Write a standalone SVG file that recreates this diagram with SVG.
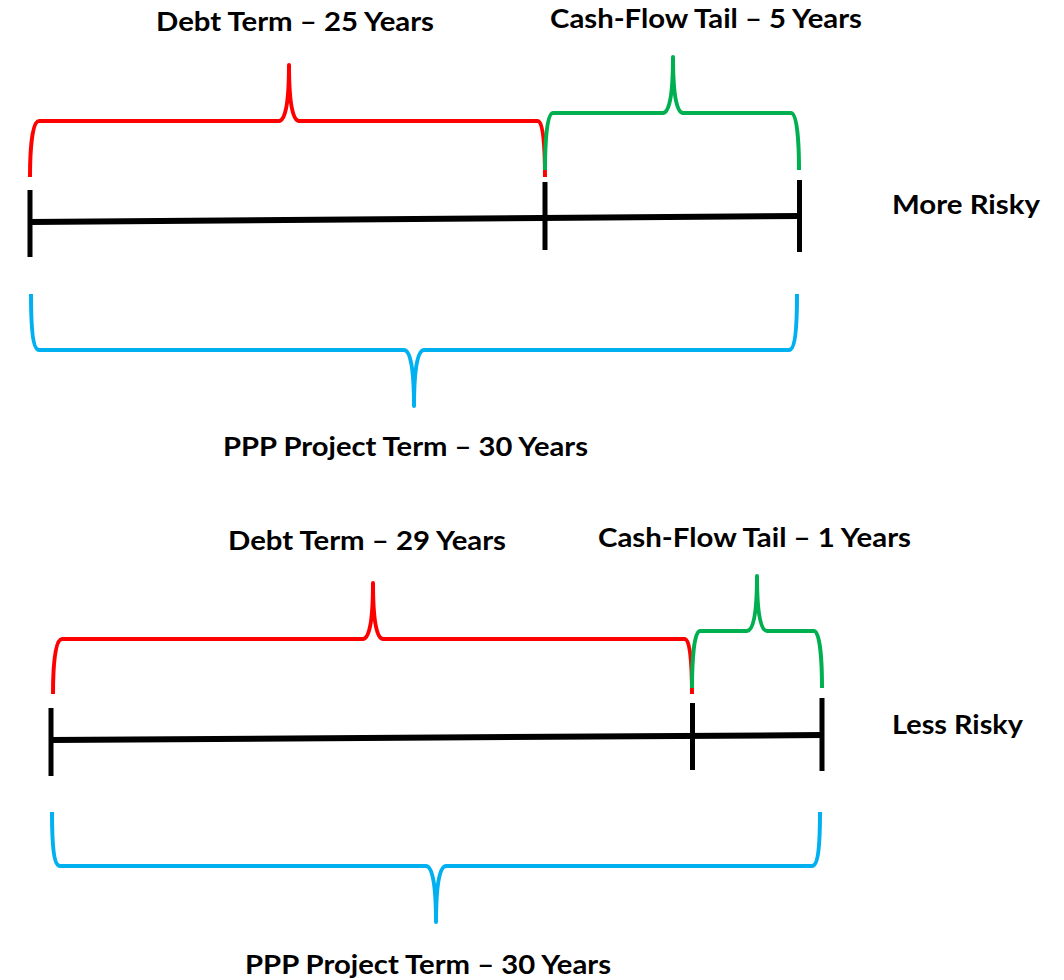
<svg xmlns="http://www.w3.org/2000/svg" width="1064" height="980" viewBox="0 0 1064 980">
<style>
.lbl{font-family:Lato,"Open Sans","Liberation Sans",sans-serif;font-weight:bold;font-size:27px;fill:#000}
.br{fill:none;stroke-width:4;stroke-linecap:butt;stroke-linejoin:round}
.red{stroke:#FF0000}
.grn{stroke:#00B050}
.blu{stroke:#00B0F0}
.tl{fill:none;stroke:#000;stroke-linecap:butt}
</style>
<rect width="1064" height="980" fill="#fff"/>
<g id="top-scenario">
  <g id="top-debt-brace">
    <path class="br red" d="M30,177 C30,150 32,121 39,121 L279,121 C285,121 289,105 289,65 C289,105 293,121 299,121 L538,121 C543,121 545,145 545,177"/>
    <text class="lbl" x="156" y="31" textLength="278" lengthAdjust="spacingAndGlyphs">Debt Term – 25 Years</text>
  </g>
  <g id="top-tail-brace">
    <path class="br grn" d="M545,170 C545,140 547,113 553,113 L663,113 C669,113 673,97 673,57 C673,97 677,113 683,113 L791,113 C797,113 799,140 799,170"/>
    <text class="lbl" x="550" y="28" textLength="312" lengthAdjust="spacingAndGlyphs">Cash-Flow Tail – 5 Years</text>
  </g>
  <g id="top-timeline">
    <path class="tl" stroke-width="6" d="M30,222 L800,216"/>
    <path class="tl" stroke-width="5" d="M30,190 L30,257 M545,182 L545,250 M799.5,180 L799.5,252"/>
  </g>
  <g id="top-project-brace">
    <path class="br blu" d="M31,294 C31,328 33,350 39,350 L404,350 C410,350 414,366 414,406 C414,366 418,350 424,350 L789,350 C795,350 797,328 797,294"/>
    <text class="lbl" x="223" y="456" textLength="365" lengthAdjust="spacingAndGlyphs">PPP Project Term – 30 Years</text>
  </g>
  <g id="top-risk">
    <text class="lbl" x="892" y="214" textLength="148" lengthAdjust="spacingAndGlyphs">More Risky</text>
  </g>
</g>
<g id="bottom-scenario">
  <g id="bottom-debt-brace">
    <path class="br red" d="M53,694 C53,665 55,639 62,639 L363,639 C369,639 373,623 373,583 C373,623 377,639 383,639 L685,639 C690,639 692,663 692,694"/>
    <text class="lbl" x="228" y="550" textLength="278" lengthAdjust="spacingAndGlyphs">Debt Term – 29 Years</text>
  </g>
  <g id="bottom-tail-brace">
    <path class="br grn" d="M692,688 C692,660 694,631 700,631 L747,631 C753,631 757,616 757,576 C757,616 761,631 767,631 L814,631 C820,631 822,660 822,688"/>
    <text class="lbl" x="598" y="547" textLength="313" lengthAdjust="spacingAndGlyphs">Cash-Flow Tail – 1 Years</text>
  </g>
  <g id="bottom-timeline">
    <path class="tl" stroke-width="6" d="M51,740 L822,735"/>
    <path class="tl" stroke-width="5" d="M51,708 L51,776 M692.5,703 L692.5,770 M822,698 L822,771"/>
  </g>
  <g id="bottom-project-brace">
    <path class="br blu" d="M52,812 C52,846 54,866 60,866 L426,866 C432,866 436,882 436,922 C436,882 440,866 446,866 L812,866 C818,866 820,846 820,812"/>
    <text class="lbl" x="245" y="974" textLength="366" lengthAdjust="spacingAndGlyphs">PPP Project Term – 30 Years</text>
  </g>
  <g id="bottom-risk">
    <text class="lbl" x="892" y="734" textLength="131" lengthAdjust="spacingAndGlyphs">Less Risky</text>
  </g>
</g>
</svg>
